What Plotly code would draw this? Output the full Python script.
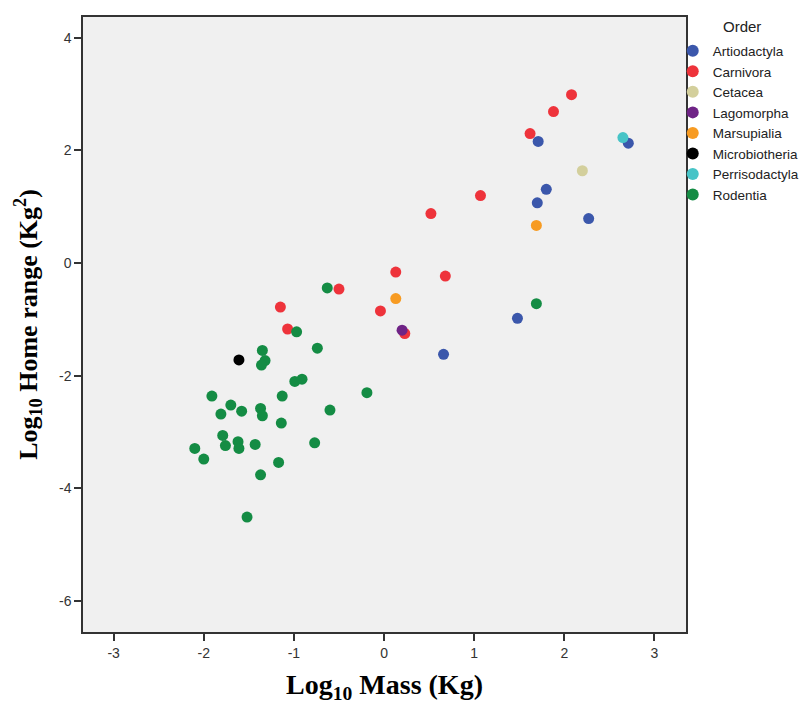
import plotly.graph_objects as go

# ---- data ----
orders = ["Artiodactyla", "Carnivora", "Cetacea", "Lagomorpha",
          "Marsupialia", "Microbiotheria", "Perrisodactyla", "Rodentia"]
colors = ["#3b57ab", "#ee333b", "#d3cf9c", "#6f2386",
          "#f79b22", "#000000", "#47c4c7", "#148c44"]

artiodactyla_x = [1.71, 2.71, 1.80, 1.70, 2.27, 1.48, 0.66]
artiodactyla_y = [2.16, 2.13, 1.31, 1.07, 0.79, -0.98, -1.62]

carnivora_x = [2.08, 1.88, 1.62, 1.07, 0.52, 0.13, 0.68, -0.50, -0.04, -1.15, -1.07, 0.23]
carnivora_y = [2.99, 2.69, 2.30, 1.20, 0.88, -0.16, -0.23, -0.46, -0.85, -0.78, -1.17, -1.25]

cetacea_x = [2.20]
cetacea_y = [1.64]

lagomorpha_x = [0.20]
lagomorpha_y = [-1.19]

marsupialia_x = [1.69, 0.13]
marsupialia_y = [0.67, -0.63]

microbiotheria_x = [-1.61]
microbiotheria_y = [-1.72]

perrisodactyla_x = [2.65]
perrisodactyla_y = [2.23]

rodentia_x = [1.69, -0.63, -0.97, -0.74, -1.35, -1.32, -1.36, -0.99, -0.91, -1.91,
              -1.70, -1.81, -1.58, -1.37, -1.35, -1.13, -1.14, -1.79, -1.76, -1.62,
              -1.61, -1.43, -2.10, -2.00, -1.17, -1.37, -1.52, -0.19, -0.60, -0.77]
rodentia_y = [-0.72, -0.44, -1.22, -1.51, -1.55, -1.73, -1.81, -2.10, -2.06, -2.36,
              -2.52, -2.68, -2.63, -2.58, -2.71, -2.36, -2.84, -3.06, -3.24, -3.17,
              -3.29, -3.22, -3.29, -3.48, -3.54, -3.76, -4.51, -2.30, -2.61, -3.19]

x_tick_vals = [-3, -2, -1, 0, 1, 2, 3]
x_tick_text = ["-3", "-2", "-1", "0", "1", "2", "3"]
y_tick_vals = [4, 2, 0, -2, -4, -6]
y_tick_text = ["4", "2", "0", "-2", "-4", "-6"]

series = [
    (artiodactyla_x, artiodactyla_y),
    (carnivora_x, carnivora_y),
    (cetacea_x, cetacea_y),
    (lagomorpha_x, lagomorpha_y),
    (marsupialia_x, marsupialia_y),
    (microbiotheria_x, microbiotheria_y),
    (perrisodactyla_x, perrisodactyla_y),
    (rodentia_x, rodentia_y),
]

fig = go.Figure()
for name, col, (xs, ys) in zip(orders, colors, series):
    fig.add_trace(go.Scatter(
        x=xs, y=ys, mode="markers", name=name,
        marker=dict(color=col, size=11, line=dict(width=0)),
    ))

axis_common = dict(
    showgrid=False, zeroline=False, showline=True, mirror=True,
    linecolor="#333333", linewidth=1.5,
    ticks="outside", ticklen=7, tickcolor="#333333", tickwidth=1.5,
    tickfont=dict(family="Liberation Sans, Arial", size=14, color="#333333"),
)

fig.update_layout(
    width=809, height=706,
    margin=dict(l=83, r=123, t=17, b=74, autoexpand=False),
    paper_bgcolor="white", plot_bgcolor="#f0f0f0",
    xaxis=dict(range=[-3.34, 3.35], tickvals=x_tick_vals, ticktext=x_tick_text,
               title=dict(text="<b>Log<sub>10</sub> Mass (Kg)</b>", standoff=15,
                          font=dict(family="Liberation Serif, Times New Roman", size=28, color="black")),
               **axis_common),
    yaxis=dict(range=[-6.55, 4.37], tickvals=y_tick_vals, ticktext=y_tick_text,
               title=dict(text="<b>Log<sub>10</sub> Home range (Kg<sup>2</sup>)</b>", standoff=14,
                          font=dict(family="Liberation Serif, Times New Roman", size=26, color="black")),
               **axis_common),
    legend=dict(
        x=0.978, xanchor="left", y=0.970, yanchor="top",
        bgcolor="rgba(0,0,0,0)",
        font=dict(family="Liberation Sans, Arial", size=13.5, color="#222222"),
        itemwidth=30, tracegroupgap=0, itemsizing="constant",
    ),
    showlegend=True,
    annotations=[dict(
        text="Order", xref="paper", yref="paper",
        x=1.0935, y=1.0, xanchor="center", yanchor="middle",
        yshift=-(26.7 - 17), showarrow=False,
        font=dict(family="Liberation Sans, Arial", size=15, color="#222222"),
    )],
)

fig.write_html("out.html")
